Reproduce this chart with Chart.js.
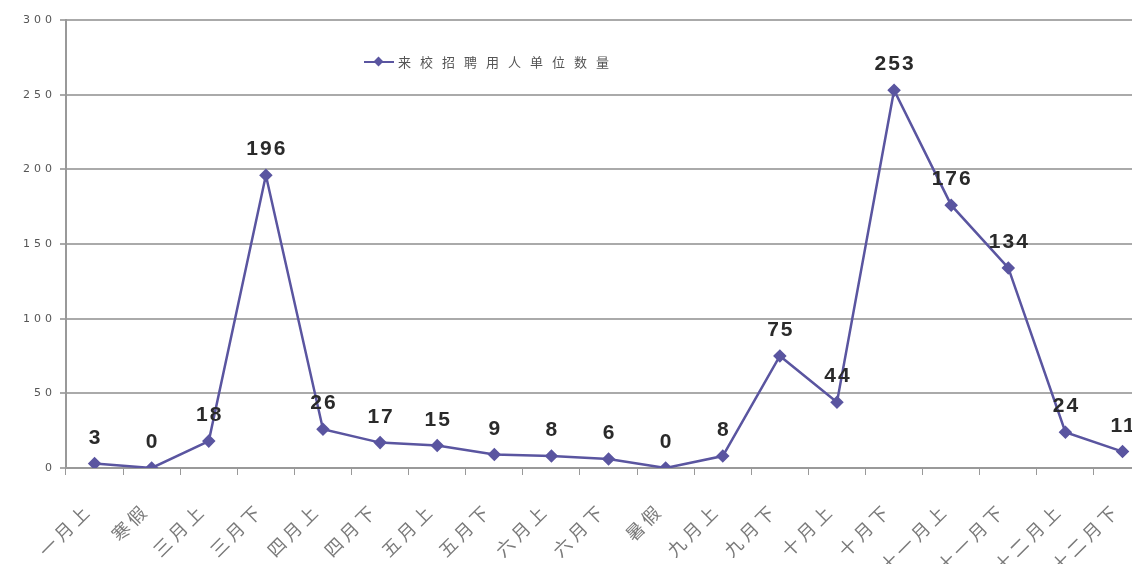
<!DOCTYPE html>
<html>
<head>
<meta charset="utf-8">
<script src="https://cdn.jsdelivr.net/npm/chart.js@4"></script>
<style>
  html, body { margin: 0; padding: 0; background: #fff; overflow: hidden; }
  #wrap { position: relative; width: 1162px; height: 564px; }
  #legend {
    position: absolute; left: 364px; top: 52px;
    font-family: "Noto Sans CJK SC", sans-serif; font-size: 13px; color: #555;
    letter-spacing: 9px;
    display: flex; align-items: center;
  }
  #legend .mark { position: relative; width: 30px; height: 12px; margin-right: 4px; }
  #legend .mark::before {
    content: ""; position: absolute; left: 0; right: 0; top: 5px; height: 2px; background: #5a55a0;
  }
  #legend .mark::after {
    content: ""; position: absolute; left: 11px; top: 2px; width: 7px; height: 7px;
    background: #5a55a0; transform: rotate(45deg);
  }
</style>
</head>
<body>
<div id="wrap">
  <canvas id="c" width="1162" height="564"></canvas>
  <div id="legend"><span class="mark"></span><span>来校招聘用人单位数量</span></div>
</div>
<script>
// Categories (half-month periods) and counts
const periods = ['一月上', '寒假', '三月上', '三月下', '四月上', '四月下', '五月上', '五月下', '六月上', '六月下',
                 '暑假', '九月上', '九月下', '十月上', '十月下', '十一月上', '十一月下', '十二月上', '十二月下'];
const employerCounts = [3, 0, 18, 196, 26, 17, 15, 9, 8, 6, 0, 8, 75, 44, 253, 176, 134, 24, 11];
const yTicks = [0, 50, 100, 150, 200, 250, 300];

const lineColor = '#5a55a0';

// Letter spacing for axis labels, like the original
const spacedText = {
    id: 'spacedText',
    beforeDraw(chart) {
        const ctx = chart.ctx;
        const wrap = (scale, spacing) => {
            if (scale._spaced) return;
            const orig = scale.drawLabels;
            scale.drawLabels = function (area) {
                ctx.letterSpacing = spacing;
                orig.call(this, area);
                ctx.letterSpacing = '0px';
            };
            scale._spaced = true;
        };
        wrap(chart.scales.x, '4px');
        wrap(chart.scales.y, '4px');
    }
};

// Draw value labels above each point
const valueLabels = {
    id: 'valueLabels',
    afterDatasetsDraw(chart) {
        const ctx = chart.ctx;
        const meta = chart.getDatasetMeta(0);
        ctx.save();
        ctx.letterSpacing = '2px';
        ctx.font = 'bold 21px "Liberation Sans", Arial, sans-serif';
        ctx.fillStyle = '#2a2a2a';
        ctx.textAlign = 'center';
        ctx.textBaseline = 'alphabetic';
        meta.data.forEach((pt, i) => {
            ctx.fillText(String(employerCounts[i]), pt.x + 1, pt.y - 20);
        });
        ctx.restore();
    }
};

new Chart(document.getElementById('c'), {
    type: 'line',
    data: {
        labels: periods,
        datasets: [{
            label: '来校招聘用人单位数量',
            data: employerCounts,
            borderColor: lineColor,
            backgroundColor: lineColor,
            borderWidth: 2.5,
            pointStyle: 'rectRot',
            pointRadius: 5,
            tension: 0
        }]
    },
    options: {
        responsive: false,
        animation: false,
        layout: { padding: { top: 20, right: 0, left: 0, bottom: 0 } },
        plugins: {
            legend: { display: false },
            tooltip: { enabled: false }
        },
        scales: {
            x: {
                offset: true,
                afterFit(scale) { scale.height = 96; },
                grid: {
                    offset: true,
                    drawOnChartArea: false,
                    drawTicks: true,
                    tickLength: 7,
                    color: '#999'
                },
                border: { color: '#999', width: 2 },
                ticks: {
                    minRotation: 45,
                    maxRotation: 45,
                    autoSkip: false,
                    padding: 24,
                    labelOffset: -6,
                    color: '#7a7a7a',
                    font: { family: '"Noto Sans CJK SC", sans-serif', size: 18 }
                }
            },
            y: {
                min: 0,
                max: 300,
                afterFit(scale) { scale.width = 66; },
                afterBuildTicks(scale) { scale.ticks = yTicks.map(v => ({ value: v })); },
                grid: {
                    color: '#aaa',
                    lineWidth: 2,
                    tickLength: 6
                },
                border: { color: '#999', width: 2 },
                ticks: {
                    padding: 4,
                    color: '#555',
                    font: { family: '"DejaVu Sans", sans-serif', size: 11 }
                }
            }
        }
    },
    plugins: [spacedText, valueLabels]
});
</script>
</body>
</html>
